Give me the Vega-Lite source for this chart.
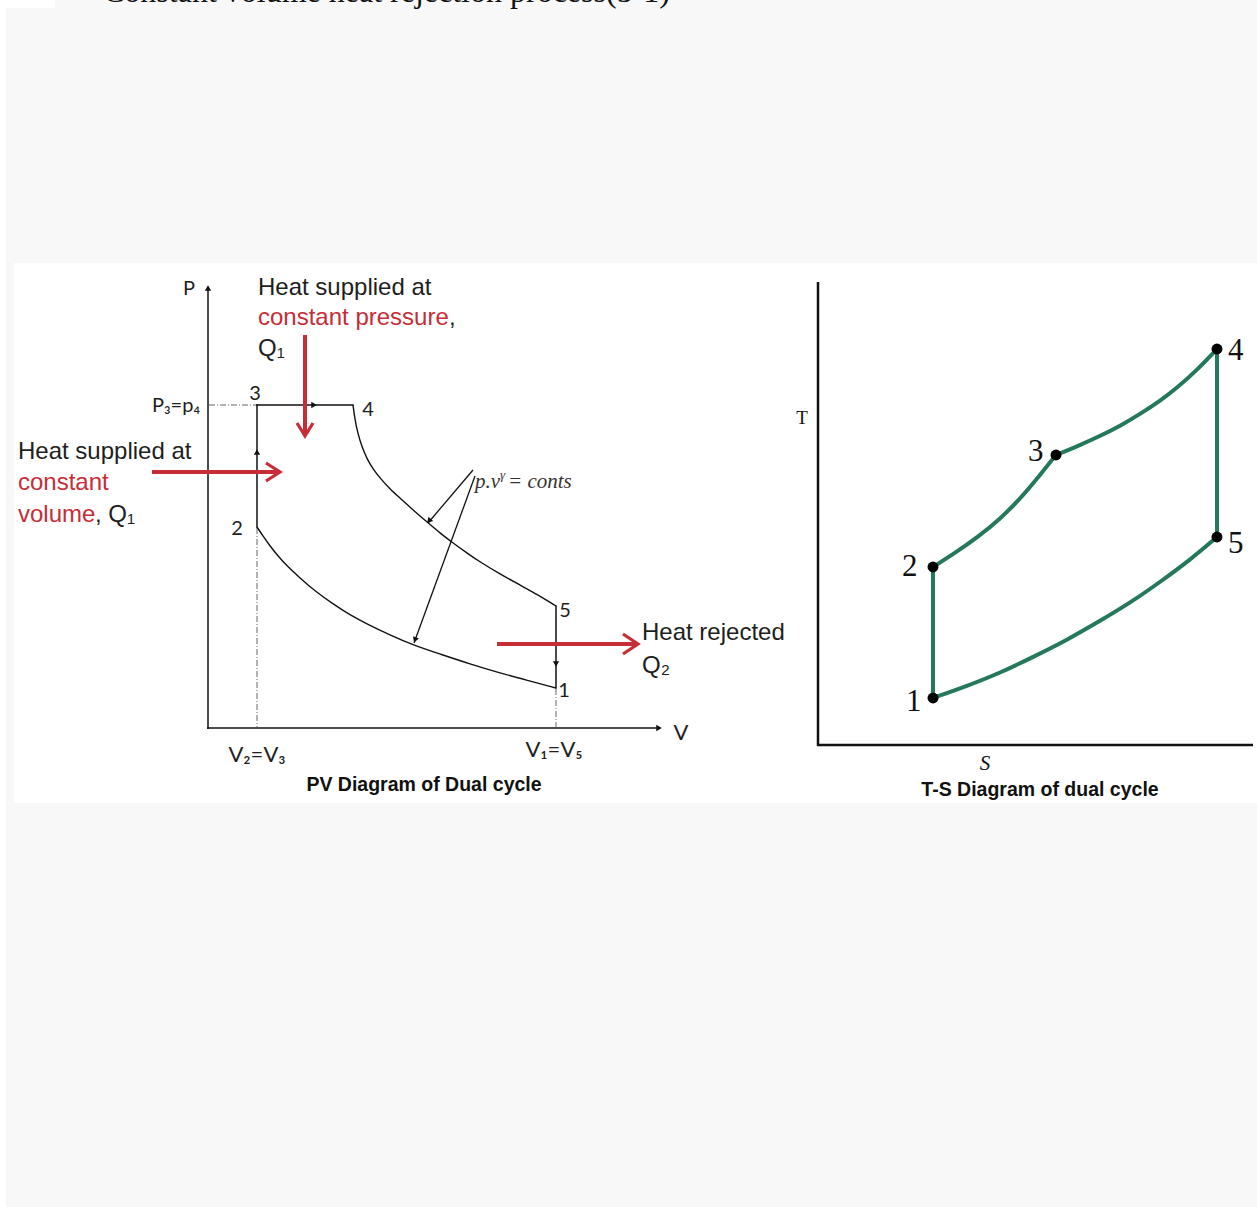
{
  "$schema": "https://vega.github.io/schema/vega-lite/v6.json",
  "autosize": {"type": "fit", "contains": "padding"},
  "width": 1257,
  "height": 1207,
  "padding": 0,
  "background": "#f8f8f8",
  "config": {"view": {"stroke": null}},
  "datasets": {
    "bg": [
      {"x": 0, "x2": 55, "y": 0, "y2": 8},
      {"x": 0, "x2": 6, "y": 0, "y2": 1207},
      {"x": 14, "x2": 1257, "y": 263, "y2": 803}
    ],
    "headline": [{"x": 103, "y": 2, "t": "Constant volume heat rejection process(5-1)"}],
    "pvAxes": [
      {"x": 208, "y": 729, "x2": 208, "y2": 289},
      {"x": 207, "y": 728, "x2": 658, "y2": 728}
    ],
    "pvGuides": [
      {"x": 209, "y": 405, "x2": 257, "y2": 405},
      {"x": 257, "y": 528, "x2": 257, "y2": 727},
      {"x": 556, "y": 689, "x2": 556, "y2": 727}
    ],
    "pvSegments": [
      {"x": 257, "y": 527, "x2": 257, "y2": 405},
      {"x": 257, "y": 405, "x2": 353, "y2": 405},
      {"x": 556, "y": 606, "x2": 556, "y2": 688}
    ],
    "pvCurves": [
      {"path": "expansion", "i": 0, "x": 353, "y": 405},
      {"path": "expansion", "i": 1, "x": 355, "y": 420},
      {"path": "expansion", "i": 2, "x": 358, "y": 434},
      {"path": "expansion", "i": 3, "x": 362, "y": 447},
      {"path": "expansion", "i": 4, "x": 367, "y": 459},
      {"path": "expansion", "i": 5, "x": 373, "y": 469},
      {"path": "expansion", "i": 6, "x": 380, "y": 478},
      {"path": "expansion", "i": 7, "x": 390, "y": 489},
      {"path": "expansion", "i": 8, "x": 400, "y": 498},
      {"path": "expansion", "i": 9, "x": 413, "y": 510},
      {"path": "expansion", "i": 10, "x": 427, "y": 522},
      {"path": "expansion", "i": 11, "x": 440, "y": 533},
      {"path": "expansion", "i": 12, "x": 453, "y": 543},
      {"path": "expansion", "i": 13, "x": 467, "y": 553},
      {"path": "expansion", "i": 14, "x": 480, "y": 562},
      {"path": "expansion", "i": 15, "x": 500, "y": 574},
      {"path": "expansion", "i": 16, "x": 520, "y": 585},
      {"path": "expansion", "i": 17, "x": 540, "y": 596},
      {"path": "expansion", "i": 18, "x": 556, "y": 606},
      {"path": "compression", "i": 0, "x": 257, "y": 527},
      {"path": "compression", "i": 1, "x": 263, "y": 536},
      {"path": "compression", "i": 2, "x": 270, "y": 546},
      {"path": "compression", "i": 3, "x": 278, "y": 556},
      {"path": "compression", "i": 4, "x": 287, "y": 566},
      {"path": "compression", "i": 5, "x": 300, "y": 578},
      {"path": "compression", "i": 6, "x": 315, "y": 591},
      {"path": "compression", "i": 7, "x": 333, "y": 604},
      {"path": "compression", "i": 8, "x": 350, "y": 615},
      {"path": "compression", "i": 9, "x": 367, "y": 624},
      {"path": "compression", "i": 10, "x": 390, "y": 635},
      {"path": "compression", "i": 11, "x": 413, "y": 645},
      {"path": "compression", "i": 12, "x": 440, "y": 654},
      {"path": "compression", "i": 13, "x": 470, "y": 664},
      {"path": "compression", "i": 14, "x": 500, "y": 673},
      {"path": "compression", "i": 15, "x": 530, "y": 681},
      {"path": "compression", "i": 16, "x": 556, "y": 688}
    ],
    "annot": [
      {"x": 473, "y": 470, "x2": 428, "y2": 523},
      {"x": 475, "y": 476, "x2": 414, "y2": 643}
    ],
    "headsUp": [{"x": 208, "y": 288}, {"x": 257, "y": 452}],
    "headsRight": [{"x": 659, "y": 728}, {"x": 314, "y": 405}],
    "headsDown": [{"x": 556, "y": 664}],
    "headA1": [{"x": 429, "y": 521}],
    "headA2": [{"x": 415, "y": 640}],
    "redShafts": [
      {"x": 152, "y": 472, "x2": 278, "y2": 472},
      {"x": 305, "y": 335, "x2": 305, "y2": 434},
      {"x": 497, "y": 644, "x2": 636, "y2": 644}
    ],
    "redHeads": [
      {"path": "L", "i": 0, "x": 266, "y": 463},
      {"path": "L", "i": 1, "x": 280, "y": 472},
      {"path": "L", "i": 2, "x": 266, "y": 481},
      {"path": "V", "i": 0, "x": 297, "y": 423},
      {"path": "V", "i": 1, "x": 305, "y": 436},
      {"path": "V", "i": 2, "x": 313, "y": 423},
      {"path": "R", "i": 0, "x": 623, "y": 634},
      {"path": "R", "i": 1, "x": 638, "y": 644},
      {"path": "R", "i": 2, "x": 623, "y": 654}
    ],
    "tsAxes": [
      {"x": 818, "y": 282, "x2": 818, "y2": 746},
      {"x": 817, "y": 745, "x2": 1253, "y2": 745}
    ],
    "tsSegments": [
      {"x": 933, "y": 698, "x2": 933, "y2": 567},
      {"x": 1217, "y": 349, "x2": 1217, "y2": 537}
    ],
    "tsCurves": [
      {"path": "2-3", "i": 0, "x": 933, "y": 567},
      {"path": "2-3", "i": 1, "x": 955, "y": 553},
      {"path": "2-3", "i": 2, "x": 978, "y": 537},
      {"path": "2-3", "i": 3, "x": 1000, "y": 519},
      {"path": "2-3", "i": 4, "x": 1020, "y": 499},
      {"path": "2-3", "i": 5, "x": 1040, "y": 475},
      {"path": "2-3", "i": 6, "x": 1056, "y": 455},
      {"path": "3-4", "i": 0, "x": 1056, "y": 455},
      {"path": "3-4", "i": 1, "x": 1078, "y": 446},
      {"path": "3-4", "i": 2, "x": 1100, "y": 436},
      {"path": "3-4", "i": 3, "x": 1120, "y": 426},
      {"path": "3-4", "i": 4, "x": 1140, "y": 414},
      {"path": "3-4", "i": 5, "x": 1160, "y": 401},
      {"path": "3-4", "i": 6, "x": 1178, "y": 387},
      {"path": "3-4", "i": 7, "x": 1197, "y": 370},
      {"path": "3-4", "i": 8, "x": 1217, "y": 349},
      {"path": "1-5", "i": 0, "x": 933, "y": 698},
      {"path": "1-5", "i": 1, "x": 967, "y": 686},
      {"path": "1-5", "i": 2, "x": 1000, "y": 673},
      {"path": "1-5", "i": 3, "x": 1033, "y": 657},
      {"path": "1-5", "i": 4, "x": 1067, "y": 640},
      {"path": "1-5", "i": 5, "x": 1100, "y": 621},
      {"path": "1-5", "i": 6, "x": 1133, "y": 601},
      {"path": "1-5", "i": 7, "x": 1160, "y": 582},
      {"path": "1-5", "i": 8, "x": 1190, "y": 560},
      {"path": "1-5", "i": 9, "x": 1217, "y": 537}
    ],
    "tsPoints": [
      {"state": "1", "x": 933, "y": 698},
      {"state": "2", "x": 933, "y": 567},
      {"state": "3", "x": 1056, "y": 455},
      {"state": "4", "x": 1217, "y": 349},
      {"state": "5", "x": 1217, "y": 537}
    ],
    "txtBlack": [
      {"x": 258, "y": 295, "t": "Heat supplied at"},
      {"x": 449, "y": 325, "t": ","},
      {"x": 258, "y": 356, "t": "Q₁"},
      {"x": 18, "y": 459, "t": "Heat supplied at"},
      {"x": 95, "y": 522, "t": ", Q₁"},
      {"x": 642, "y": 640, "t": "Heat rejected"},
      {"x": 642, "y": 673, "t": "Q₂"}
    ],
    "txtRed": [
      {"x": 258, "y": 325, "t": "constant pressure"},
      {"x": 18, "y": 490, "t": "constant"},
      {"x": 18, "y": 522, "t": "volume"}
    ],
    "pvLabels": [
      {"x": 189, "y": 295, "t": "P"},
      {"x": 255, "y": 400, "t": "3"},
      {"x": 368, "y": 416, "t": "4"},
      {"x": 237, "y": 535, "t": "2"},
      {"x": 565, "y": 617, "t": "5"},
      {"x": 564, "y": 697, "t": "1"},
      {"x": 176, "y": 412, "t": "P₃=p₄"}
    ],
    "pvLabels2": [
      {"x": 681, "y": 740, "t": "V"},
      {"x": 257, "y": 762, "t": "V₂=V₃"},
      {"x": 554, "y": 757, "t": "V₁=V₅"}
    ],
    "titles": [
      {"x": 424, "y": 791, "t": "PV Diagram of Dual cycle"},
      {"x": 1040, "y": 796, "t": "T-S Diagram of dual cycle"}
    ],
    "tsLabels": [
      {"x": 906, "y": 711, "t": "1"},
      {"x": 902, "y": 576, "t": "2"},
      {"x": 1028, "y": 461, "t": "3"},
      {"x": 1228, "y": 360, "t": "4"},
      {"x": 1228, "y": 553, "t": "5"}
    ],
    "tsT": [{"x": 802, "y": 424, "t": "T"}],
    "tsS": [{"x": 985, "y": 770, "t": "S"}],
    "formulaMain": [
      {"x": 475, "y": 488, "t": "p.v"},
      {"x": 508, "y": 488, "t": "= conts"}
    ],
    "formulaSup": [{"x": 500, "y": 479, "t": "γ"}]
  },
  "encoding": {
    "x": {"field": "x", "type": "quantitative", "axis": null, "scale": {"domain": [0, 1257], "nice": false, "zero": false}},
    "y": {"field": "y", "type": "quantitative", "axis": null, "scale": {"domain": [0, 1207], "nice": false, "zero": false, "reverse": true}}
  },
  "layer": [
    {"data": {"name": "bg"}, "mark": {"type": "rect", "fill": "#ffffff"},
     "encoding": {"x2": {"field": "x2"}, "y2": {"field": "y2"}}},
    {"data": {"name": "headline"}, "mark": {"type": "text", "clip": true, "align": "left", "baseline": "alphabetic", "font": "Liberation Serif", "fontSize": 32, "fill": "#111"},
     "encoding": {"text": {"field": "t"}}},
    {"data": {"name": "pvAxes"}, "mark": {"type": "rule", "stroke": "#111", "strokeWidth": 1.5},
     "encoding": {"x2": {"field": "x2"}, "y2": {"field": "y2"}}},
    {"data": {"name": "pvGuides"}, "mark": {"type": "rule", "stroke": "#666", "strokeWidth": 1, "strokeDash": [6, 2, 1, 2]},
     "encoding": {"x2": {"field": "x2"}, "y2": {"field": "y2"}}},
    {"data": {"name": "pvSegments"}, "mark": {"type": "rule", "stroke": "#111", "strokeWidth": 1.5, "strokeCap": "square"},
     "encoding": {"x2": {"field": "x2"}, "y2": {"field": "y2"}}},
    {"data": {"name": "pvCurves"}, "mark": {"type": "line", "interpolate": "basis", "stroke": "#111", "strokeWidth": 1.4},
     "encoding": {"detail": {"field": "path"}, "order": {"field": "i", "type": "quantitative"}}},
    {"data": {"name": "annot"}, "mark": {"type": "rule", "stroke": "#111", "strokeWidth": 1.3},
     "encoding": {"x2": {"field": "x2"}, "y2": {"field": "y2"}}},
    {"data": {"name": "headsUp"}, "mark": {"type": "point", "shape": "triangle-up", "filled": true, "fill": "#111", "size": 40, "strokeWidth": 0, "opacity": 1}},
    {"data": {"name": "headsRight"}, "mark": {"type": "point", "shape": "triangle-right", "filled": true, "fill": "#111", "size": 40, "strokeWidth": 0, "opacity": 1}},
    {"data": {"name": "headsDown"}, "mark": {"type": "point", "shape": "triangle-down", "filled": true, "fill": "#111", "size": 40, "strokeWidth": 0, "opacity": 1}},
    {"data": {"name": "headA1"}, "mark": {"type": "point", "shape": "triangle-up", "angle": 220, "filled": true, "fill": "#111", "size": 40, "strokeWidth": 0, "opacity": 1}},
    {"data": {"name": "headA2"}, "mark": {"type": "point", "shape": "triangle-up", "angle": 200, "filled": true, "fill": "#111", "size": 40, "strokeWidth": 0, "opacity": 1}},
    {"data": {"name": "redShafts"}, "mark": {"type": "rule", "stroke": "#c62d36", "strokeWidth": 4},
     "encoding": {"x2": {"field": "x2"}, "y2": {"field": "y2"}}},
    {"data": {"name": "redHeads"}, "mark": {"type": "line", "stroke": "#c62d36", "strokeWidth": 3.2, "strokeJoin": "miter"},
     "encoding": {"detail": {"field": "path"}, "order": {"field": "i", "type": "quantitative"}}},
    {"data": {"name": "tsAxes"}, "mark": {"type": "rule", "stroke": "#111", "strokeWidth": 2.5},
     "encoding": {"x2": {"field": "x2"}, "y2": {"field": "y2"}}},
    {"data": {"name": "tsSegments"}, "mark": {"type": "rule", "stroke": "#25785c", "strokeWidth": 4},
     "encoding": {"x2": {"field": "x2"}, "y2": {"field": "y2"}}},
    {"data": {"name": "tsCurves"}, "mark": {"type": "line", "interpolate": "basis", "stroke": "#25785c", "strokeWidth": 4},
     "encoding": {"detail": {"field": "path"}, "order": {"field": "i", "type": "quantitative"}}},
    {"data": {"name": "tsPoints"}, "mark": {"type": "point", "shape": "circle", "filled": true, "fill": "#000", "size": 120, "strokeWidth": 0, "opacity": 1}},
    {"data": {"name": "txtBlack"}, "mark": {"type": "text", "align": "left", "baseline": "alphabetic", "font": "Liberation Sans", "fontSize": 24, "fill": "#1e1e1e"},
     "encoding": {"text": {"field": "t"}}},
    {"data": {"name": "txtRed"}, "mark": {"type": "text", "align": "left", "baseline": "alphabetic", "font": "Liberation Sans", "fontSize": 24, "fill": "#c62d36"},
     "encoding": {"text": {"field": "t"}}},
    {"data": {"name": "pvLabels"}, "mark": {"type": "text", "align": "center", "baseline": "alphabetic", "font": "Lato", "fontSize": 20, "fill": "#1e1e1e"},
     "encoding": {"text": {"field": "t"}}},
    {"data": {"name": "pvLabels2"}, "mark": {"type": "text", "align": "center", "baseline": "alphabetic", "font": "Lato", "fontSize": 22, "fill": "#1e1e1e"},
     "encoding": {"text": {"field": "t"}}},
    {"data": {"name": "titles"}, "mark": {"type": "text", "align": "center", "baseline": "alphabetic", "font": "Liberation Sans", "fontWeight": "bold", "fontSize": 19.5, "fill": "#111"},
     "encoding": {"text": {"field": "t"}}},
    {"data": {"name": "tsLabels"}, "mark": {"type": "text", "align": "left", "baseline": "alphabetic", "font": "Liberation Serif", "fontSize": 31, "fill": "#111"},
     "encoding": {"text": {"field": "t"}}},
    {"data": {"name": "tsT"}, "mark": {"type": "text", "align": "center", "baseline": "alphabetic", "font": "Liberation Serif", "fontSize": 19, "fill": "#111"},
     "encoding": {"text": {"field": "t"}}},
    {"data": {"name": "tsS"}, "mark": {"type": "text", "align": "center", "baseline": "alphabetic", "font": "Liberation Serif", "fontStyle": "italic", "fontSize": 21, "fill": "#111"},
     "encoding": {"text": {"field": "t"}}},
    {"data": {"name": "formulaMain"}, "mark": {"type": "text", "align": "left", "baseline": "alphabetic", "font": "Liberation Serif", "fontStyle": "italic", "fontSize": 21, "fill": "#333"},
     "encoding": {"text": {"field": "t"}}},
    {"data": {"name": "formulaSup"}, "mark": {"type": "text", "align": "left", "baseline": "alphabetic", "font": "Liberation Serif", "fontStyle": "italic", "fontSize": 13, "fill": "#333"},
     "encoding": {"text": {"field": "t"}}}
  ]
}
